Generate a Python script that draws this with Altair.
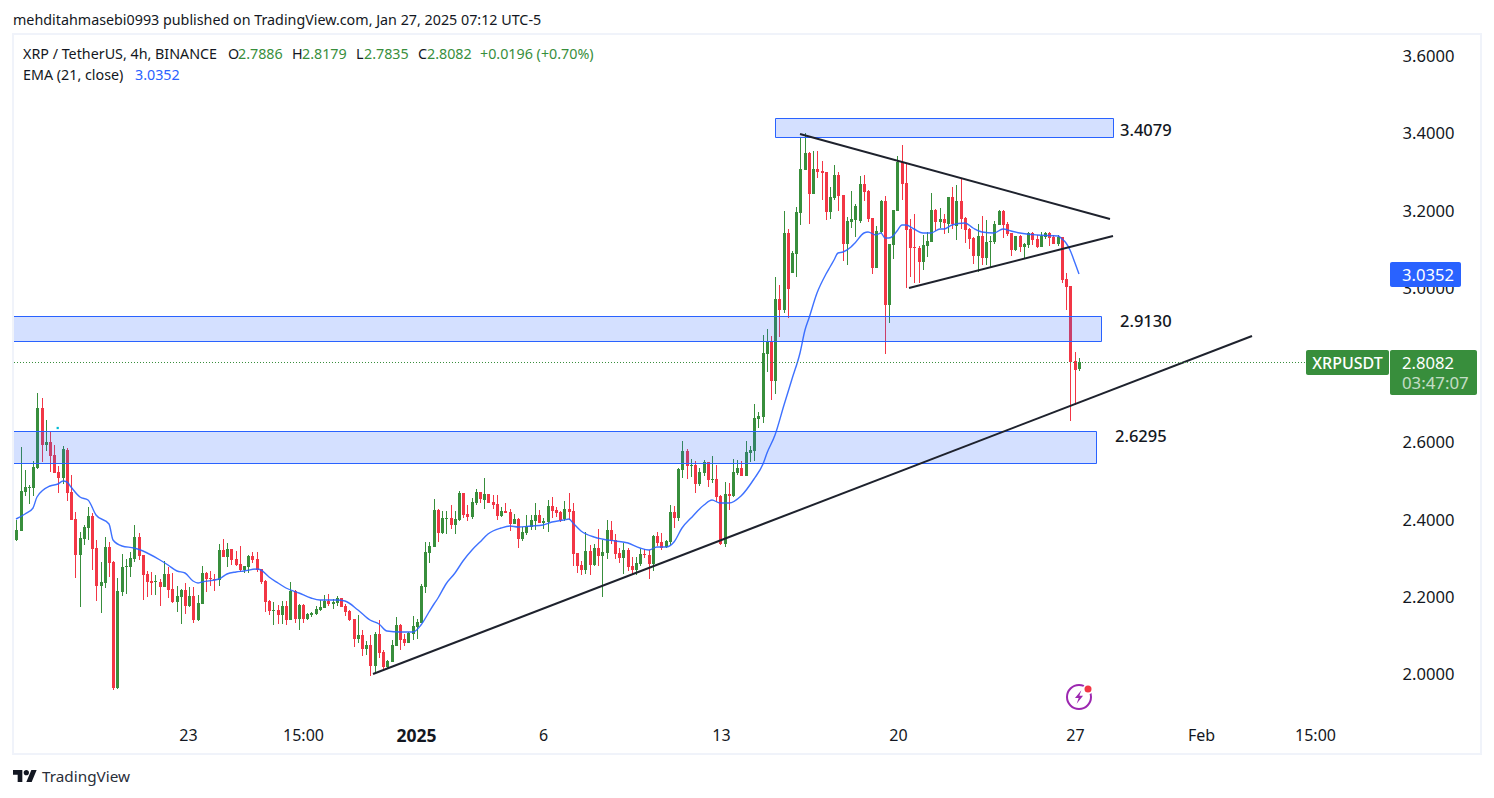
import altair as alt
import pandas as pd

FONT = "Noto Sans"
INK = "#131722"
GREEN = "#388e3c"
RED = "#f23645"
BLUE = "#2962ff"

# open, high, low, close
candles_a = [
(2.347,2.399,2.345,2.373),(2.371,2.587,2.371,2.474),(2.471,2.528,2.461,2.484),(2.482,2.489,2.440,2.484),
(2.482,2.551,2.461,2.535),(2.533,2.727,2.531,2.689),(2.689,2.714,2.549,2.593),(2.593,2.657,2.577,2.600),
(2.600,2.629,2.523,2.564),(2.567,2.593,2.520,2.520),(2.523,2.538,2.468,2.507),(2.507,2.590,2.493,2.582),
(2.580,2.585,2.448,2.468),(2.471,2.515,2.399,2.399),(2.401,2.419,2.248,2.308),(2.308,2.367,2.173,2.352),
(2.349,2.386,2.334,2.380),(2.378,2.432,2.347,2.409),(2.409,2.417,2.269,2.323),(2.326,2.347,2.189,2.228),
(2.228,2.290,2.158,2.238),(2.235,2.355,2.222,2.329),(2.329,2.342,2.251,2.287),(2.290,2.292,1.958,1.964),
(1.964,2.248,1.961,2.215),(2.212,2.311,2.202,2.277),(2.277,2.298,2.207,2.279),(2.277,2.316,2.251,2.300),
(2.298,2.386,2.290,2.355),(2.355,2.365,2.295,2.305),(2.308,2.308,2.191,2.256),(2.259,2.266,2.199,2.238),
(2.241,2.264,2.204,2.235),(2.238,2.256,2.204,2.241),(2.238,2.246,2.176,2.225),(2.225,2.292,2.225,2.259),
(2.259,2.277,2.197,2.217),(2.220,2.261,2.184,2.186),(2.186,2.228,2.160,2.202),(2.199,2.220,2.129,2.217),
(2.217,2.235,2.155,2.176),(2.176,2.225,2.173,2.202),(2.202,2.225,2.132,2.140),(2.140,2.204,2.137,2.184),
]
candles_b = [
(2.181,2.280,2.181,2.261),(2.261,2.264,2.212,2.246),(2.248,2.267,2.228,2.246),(2.246,2.259,2.215,2.243),
(2.243,2.337,2.228,2.321),(2.321,2.350,2.303,2.303),(2.303,2.339,2.277,2.324),(2.324,2.324,2.282,2.295),
(2.298,2.318,2.280,2.282),(2.285,2.331,2.264,2.269),(2.269,2.280,2.261,2.280),(2.277,2.308,2.261,2.305),
(2.305,2.316,2.287,2.295),(2.298,2.316,2.264,2.269),(2.272,2.272,2.233,2.238),(2.241,2.243,2.160,2.186),
(2.189,2.192,2.153,2.163),(2.163,2.186,2.127,2.166),(2.166,2.179,2.129,2.153),(2.153,2.189,2.129,2.176),
(2.176,2.189,2.127,2.140),(2.140,2.238,2.140,2.215),(2.215,2.217,2.132,2.142),(2.142,2.181,2.114,2.179),
(2.179,2.181,2.132,2.142),(2.142,2.158,2.140,2.155),(2.153,2.160,2.148,2.158),(2.155,2.176,2.153,2.168),
(2.166,2.192,2.163,2.173),(2.171,2.204,2.171,2.189),(2.189,2.207,2.176,2.181),(2.181,2.194,2.168,2.186),
(2.184,2.202,2.176,2.197),(2.197,2.197,2.173,2.173),(2.176,2.181,2.150,2.160),(2.163,2.166,2.137,2.140),
(2.142,2.142,2.070,2.091),(2.091,2.153,2.080,2.101),(2.101,2.114,2.047,2.065),(2.065,2.085,2.049,2.075),
(2.075,2.101,1.995,2.021),(2.021,2.109,2.000,2.104),(2.104,2.140,2.041,2.054),(2.057,2.062,2.013,2.018),
(2.018,2.036,2.013,2.034),(2.031,2.088,2.031,2.075),(2.073,2.148,2.073,2.127),(2.127,2.129,2.062,2.088),
(2.091,2.104,2.073,2.080),(2.080,2.109,2.080,2.106),(2.104,2.150,2.088,2.124),(2.122,2.142,2.091,2.135),
(2.132,2.233,2.132,2.228),(2.225,2.342,2.210,2.316),(2.313,2.342,2.287,2.331),
]
candles_c = [
(2.329,2.453,2.329,2.425),(2.425,2.427,2.342,2.365),(2.365,2.422,2.362,2.404),(2.401,2.422,2.362,2.404),
(2.404,2.437,2.375,2.386),(2.386,2.422,2.362,2.401),(2.399,2.474,2.396,2.469),(2.469,2.469,2.404,2.412),
(2.414,2.437,2.396,2.406),(2.406,2.456,2.401,2.445),(2.443,2.479,2.437,2.471),(2.471,2.471,2.443,2.453),
(2.450,2.507,2.427,2.466),(2.466,2.466,2.443,2.443),(2.445,2.463,2.427,2.437),(2.440,2.463,2.399,2.409),
(2.409,2.432,2.406,2.422),(2.422,2.443,2.417,2.417),(2.419,2.427,2.370,2.388),(2.388,2.414,2.388,2.401),
(2.401,2.404,2.326,2.349),(2.349,2.381,2.344,2.368),(2.365,2.412,2.360,2.383),(2.381,2.412,2.373,2.399),
(2.396,2.443,2.373,2.412),(2.412,2.425,2.391,2.391),(2.391,2.404,2.375,2.396),(2.393,2.450,2.368,2.435),
(2.435,2.458,2.404,2.422),(2.425,2.432,2.406,2.417),(2.419,2.422,2.393,2.399),(2.401,2.448,2.396,2.427),
(2.427,2.469,2.399,2.419),(2.422,2.443,2.280,2.311),(2.313,2.313,2.261,2.280),(2.282,2.293,2.256,2.269),
(2.269,2.368,2.259,2.318),(2.318,2.334,2.256,2.282),(2.282,2.337,2.280,2.326),(2.326,2.375,2.280,2.305),
(2.305,2.347,2.199,2.316),(2.313,2.399,2.298,2.373),(2.373,2.396,2.337,2.344),(2.347,2.362,2.298,2.311),
(2.313,2.326,2.287,2.300),(2.300,2.339,2.259,2.321),(2.321,2.326,2.267,2.277),(2.280,2.303,2.256,2.269),
(2.269,2.303,2.256,2.287),(2.285,2.324,2.280,2.311),(2.311,2.324,2.300,2.308),(2.308,2.321,2.246,2.285),
(2.285,2.360,2.267,2.357),(2.357,2.368,2.331,2.339),
]
candles_d = [
(2.341,2.365,2.321,2.326),(2.328,2.347,2.326,2.344),(2.341,2.437,2.334,2.419),(2.419,2.435,2.378,2.404),
(2.404,2.533,2.396,2.530),(2.528,2.603,2.507,2.577),(2.577,2.582,2.505,2.538),(2.538,2.556,2.510,2.541),
(2.541,2.551,2.468,2.492),(2.492,2.533,2.486,2.523),(2.520,2.554,2.512,2.549),(2.549,2.549,2.484,2.502),
(2.502,2.564,2.494,2.505),(2.505,2.541,2.445,2.458),(2.461,2.463,2.334,2.336),(2.336,2.497,2.328,2.466),
(2.466,2.494,2.424,2.461),(2.461,2.556,2.458,2.523),(2.520,2.554,2.515,2.533),(2.533,2.551,2.512,2.512),
(2.512,2.603,2.512,2.574),(2.572,2.590,2.549,2.580),(2.577,2.699,2.551,2.662),(2.660,2.678,2.637,2.668),
(2.665,2.877,2.650,2.831),(2.828,2.893,2.782,2.859),(2.859,2.875,2.709,2.758),(2.758,3.028,2.725,2.971),
]
candles_e = [
(2.971,3.007,2.872,2.942),(2.942,3.199,2.935,3.142),(3.142,3.152,2.922,2.997),(3.038,3.095,3.038,3.090),
(3.087,3.208,3.028,3.196),(3.194,3.388,3.162,3.307),(3.305,3.401,3.305,3.349),(3.349,3.351,3.165,3.243),
(3.243,3.354,3.243,3.307),(3.307,3.354,3.284,3.300),(3.302,3.328,3.227,3.297),(3.300,3.300,3.175,3.196),
(3.196,3.261,3.178,3.235),(3.232,3.318,3.227,3.292),(3.292,3.300,3.199,3.238),(3.240,3.240,3.069,3.113),
(3.113,3.183,3.059,3.173),(3.170,3.250,3.155,3.178),(3.175,3.217,3.131,3.212),(3.173,3.289,3.168,3.269),
(3.269,3.292,3.225,3.248),(3.250,3.253,3.170,3.178),(3.181,3.181,3.036,3.051),(3.051,3.160,3.051,3.147),
(3.144,3.227,3.142,3.225),(3.225,3.238,2.828,2.955),(2.955,3.113,2.909,3.113),(3.111,3.201,3.074,3.201),
(3.199,3.341,3.199,3.326),(3.326,3.370,3.227,3.269),(3.271,3.320,3.000,3.150),(3.152,3.178,3.028,3.103),
(3.105,3.191,3.012,3.103),(3.103,3.108,3.012,3.067),(3.067,3.137,3.046,3.111),(3.108,3.144,3.080,3.121),
(3.118,3.245,3.118,3.201),(3.201,3.204,3.147,3.170),
]
candles_f = [
(3.170,3.206,3.155,3.178),(3.178,3.191,3.139,3.168),(3.165,3.235,3.142,3.235),(3.235,3.261,3.152,3.165),
(3.160,3.266,3.124,3.225),(3.225,3.284,3.152,3.178),(3.181,3.183,3.116,3.150),(3.152,3.155,3.100,3.126),
(3.129,3.131,3.061,3.082),(3.082,3.165,3.041,3.134),(3.134,3.186,3.059,3.077),(3.077,3.175,3.059,3.118),
(3.118,3.134,3.051,3.121),(3.118,3.173,3.113,3.165),(3.162,3.201,3.162,3.199),(3.199,3.201,3.129,3.162),
(3.165,3.170,3.134,3.139),(3.142,3.142,3.082,3.098),(3.098,3.134,3.095,3.134),(3.134,3.137,3.093,3.105),
(3.105,3.116,3.077,3.113),(3.111,3.144,3.103,3.142),(3.142,3.144,3.111,3.124),(3.126,3.137,3.103,3.105),
(3.105,3.144,3.105,3.134),(3.131,3.144,3.126,3.142),(3.142,3.144,3.108,3.129),(3.131,3.137,3.113,3.113),
(3.113,3.137,3.108,3.131),(3.131,3.131,3.012,3.020),(3.023,3.038,2.942,3.002),(3.005,3.005,2.655,2.808),
(2.810,2.834,2.696,2.787),(2.7886,2.8179,2.7835,2.8082),
]

ema_index = [0,2,4,5,8,10,11,12,13,15,17,19,22,23,25,28,30,34,36,38,40,42,43,44,48,50,52,54,57,58,60,62,64,67,70,72,76,78,81,84,86,88,91,94,96,98,99,100,102,104,106,108,110,112,115,117,119,122,125,127,130,131,132,134,137,139,142,145,148,150,152,154,156,158,160,163,165,167,169,172,175,177,178,180,182,184,186,187,188,190,192,193,194,195,196,198,199,201,202,204,205,206,207,208,209,210,211,213,215,217,219,220,222,225,227,229,232,234,236,238,242,247,248,249,250,251,252]
ema_value = [2.402,2.414,2.430,2.457,2.488,2.492,2.500,2.497,2.483,2.459,2.450,2.411,2.388,2.347,2.332,2.325,2.319,2.295,2.282,2.267,2.262,2.241,2.236,2.239,2.246,2.259,2.265,2.267,2.273,2.269,2.250,2.235,2.223,2.211,2.196,2.192,2.192,2.188,2.166,2.141,2.129,2.111,2.108,2.108,2.127,2.160,2.181,2.196,2.233,2.261,2.293,2.321,2.343,2.362,2.377,2.383,2.381,2.383,2.386,2.394,2.400,2.401,2.392,2.371,2.354,2.349,2.344,2.338,2.325,2.321,2.328,2.328,2.341,2.379,2.405,2.437,2.450,2.442,2.443,2.461,2.506,2.545,2.571,2.618,2.696,2.765,2.830,2.891,2.921,2.987,3.036,3.055,3.072,3.091,3.092,3.106,3.117,3.141,3.145,3.137,3.141,3.128,3.128,3.134,3.147,3.162,3.163,3.153,3.141,3.143,3.151,3.151,3.162,3.167,3.154,3.145,3.143,3.151,3.148,3.142,3.136,3.134,3.126,3.115,3.098,3.063,3.0352]

zone_start = [179.96, -0.83, -0.83]
zone_end = [260.1, 257.3, 256.1]
zone_top = [3.4395, 2.9269, 2.6304]
zone_bottom = [3.3903, 2.8621, 2.5463]

zone_text = ["3.4079", "2.9130", "2.6295"]
zone_text_x = [261.8, 261.8, 260.6]
zone_text_y = [3.4085, 2.9139, 2.6162]

trend_name = ["rise", "rise", "fall", "fall", "floor", "floor"]
trend_x = [84.6, 293.1, 185.9, 259.4, 211.7, 260.1]
trend_y = [2.0000, 2.8751, 3.3980, 3.1780, 2.9994, 3.1340]

last_price = [2.8082]
last_start = [-0.66]
last_end = [305.9]

date_pos = [40.7, 68.1, 94.9, 124.9, 167.2, 209.1, 251.1, 281.1, 308.1]
date_text = ["23", "15:00", "2025", "6", "13", "20", "27", "Feb", "15:00"]
price_ticks = [2.0, 2.2, 2.4, 2.6, 3.0, 3.2, 3.4, 3.6]

rows = candles_a + candles_b + candles_c + candles_d + candles_e + candles_f
candles = pd.DataFrame(rows, columns=["o", "h", "l", "c"])
candles["i"] = range(len(candles))
candles["dir"] = ["up" if c >= o else "down" for o, c in zip(candles.o, candles.c)]
candles["top"] = candles[["o", "c"]].max(axis=1)

W, H = 1478, 780
xs = alt.Scale(domain=[-1.969, 348.6], nice=False, zero=False, round=True, padding=0)
ys = alt.Scale(domain=[1.7049, 3.7243], nice=False, zero=False, round=True, padding=0)
cs = alt.Scale(domain=["up", "down"], range=[GREEN, RED])

label_map = "{" + ",".join(f"'{p}':'{t}'" for p, t in zip(date_pos, date_text)) + "}"
x_axis = alt.Axis(values=date_pos, labelExpr=label_map + "[datum.value]", title=None, grid=False,
                  domain=False, ticks=False, labelPadding=0, offset=-61, labelFont=FONT,
                  labelFontSize=alt.expr("datum.value == 94.9 ? 17.5 : 16"),
                  labelColor=INK, labelFlush=False, labelOverlap=False,
                  labelFontWeight=alt.expr("datum.value == 94.9 ? 'bold' : 'normal'"))
y_axis = alt.Axis(values=price_ticks, format=".4f", title=None, grid=False, domain=False, ticks=False,
                  orient="right", offset=-84, labelPadding=0, labelFont=FONT, labelFontSize=16.6,
                  labelColor=INK, labelFlush=False, labelOverlap=False, labelBaseline="middle", labelOffset=0.4)

X = lambda f: alt.X(f, type="quantitative", scale=xs, title=None)
Y = lambda f: alt.Y(f, type="quantitative", scale=ys, title=None)

wicks = alt.Chart(candles).mark_rule(strokeWidth=1, xOffset=0.5).encode(
    x=alt.X("i:Q", scale=xs, axis=x_axis),
    y=alt.Y("l:Q", scale=ys, axis=y_axis),
    y2="h:Q",
    color=alt.Color("dir:N", scale=cs, legend=None),
)
bodies = alt.Chart(candles).mark_bar(size=3, orient="vertical", xOffset=0.5).encode(
    x=X("i"), y=Y("o"), y2="c:Q",
    color=alt.Color("dir:N", scale=cs, legend=None),
)
dojis = alt.Chart(candles).mark_tick(orient="horizontal", size=3, thickness=1, xOffset=0.5, yOffset=0.5, opacity=1).encode(
    x=X("i"), y=Y("top"),
    color=alt.Color("dir:N", scale=cs, legend=None),
)
ema = alt.Chart(pd.DataFrame({"i": ema_index, "v": ema_value})).mark_line(
    color=BLUE, strokeWidth=1.4, opacity=0.9, interpolate="monotone").encode(x=X("i"), y=Y("v"))
zones = alt.Chart(pd.DataFrame({"a": zone_start, "b": zone_end, "t": zone_top, "u": zone_bottom})).mark_rect(
    fill=BLUE, fillOpacity=0.2, stroke=BLUE, strokeWidth=1,
    xOffset=0.5, x2Offset=0.5, yOffset=0.5, y2Offset=0.5).encode(x=X("a"), x2="b:Q", y=Y("t"), y2="u:Q")
trends = alt.Chart(pd.DataFrame({"n": trend_name, "x": trend_x, "y": trend_y})).mark_line(
    color="#1e222d", strokeWidth=2).encode(x=X("x"), y=Y("y"), detail="n:N")
last_line = alt.Chart(pd.DataFrame({"a": last_start, "b": last_end, "y": last_price})).mark_rule(
    color=GREEN, strokeWidth=1, strokeDash=[1, 2], yOffset=0.5).encode(x=X("a"), x2="b:Q", y=Y("y"))
zone_labels = alt.Chart(pd.DataFrame({"t": zone_text, "x": zone_text_x, "y": zone_text_y})).mark_text(
    align="left", baseline="middle", font=FONT, fontSize=16.5, color=INK, fontWeight=500, dy=1).encode(
    x=X("x"), y=Y("y"), text="t:N")


def text(s, px, py, size=14.3, color=INK, align="left", weight="normal", opacity=1):
    return alt.Chart().mark_text(align=align, baseline="middle", font=FONT, fontSize=size, color=color,
                                 fontWeight=weight, opacity=opacity).encode(
        x=alt.value(px - 8), y=alt.value(py - 7), text=alt.value(s))


def box(x0, x1, y0, y1, fill=None, stroke=None, sw=0, radius=0):
    kw = {}
    if fill:
        kw["fill"] = fill
    else:
        kw["fillOpacity"] = 0
    if stroke:
        kw["stroke"] = stroke
    return alt.Chart().mark_rect(strokeWidth=sw, cornerRadius=radius, **kw).encode(
        x=alt.value(x0 - 8), x2=alt.value(x1 - 8), y=alt.value(y0 - 8), y2=alt.value(y1 - 8))


def glyph(shape, px, py, size, fill=None, stroke=None, sw=0):
    kw = {"filled": bool(fill)}
    if fill:
        kw["fill"] = fill
    if stroke:
        kw["stroke"] = stroke
    return alt.Chart().mark_point(shape=shape, size=size, strokeWidth=sw, opacity=1, **kw).encode(
        x=alt.value(px - 8), y=alt.value(py - 8))


LOGO = ("M-0.222 0.5H-0.611V-0.111H-1V-0.5H-0.222Z"
        "M0.556 0.5H0.111L0.528 -0.5H0.972Z"
        "M-0.111 -0.278A0.222 0.222 0 1 0 0.333 -0.278A0.222 0.222 0 1 0 -0.111 -0.278Z")
BOLT = "M0.35 -1L-0.6 0.15H-0.05L-0.35 1L0.6 -0.2H0.05Z"

chrome = [
    box(13, 1481, 34, 754, stroke="#f0f3fa", sw=2),
    text("mehditahmasebi0993 published on TradingView.com, Jan 27, 2025 07:12 UTC-5", 13, 20),
    text("XRP / TetherUS, 4h, BINANCE", 23, 54),
    text("O", 228, 54), text("2.7886", 238, 54, color=GREEN),
    text("H", 292, 54), text("2.8179", 302, 54, color=GREEN),
    text("L", 356, 54), text("2.7835", 364, 54, color=GREEN),
    text("C", 418, 54), text("2.8082", 427, 54, color=GREEN),
    text("+0.0196 (+0.70%)", 480, 54, color=GREEN),
    text("EMA (21, close)", 23, 75), text("3.0352", 135, 75, color=BLUE),
    box(1390, 1461, 262, 287, fill=BLUE, radius=2),
    text("3.0352", 1402, 274.5, size=16.6, color="#ffffff"),
    box(1306, 1389, 350, 375, fill=GREEN, radius=2),
    text("XRPUSDT", 1347.5, 362.5, size=16, color="#ffffff", align="center", weight=500),
    box(1390, 1477, 350, 395, fill=GREEN, radius=2),
    text("2.8082", 1402, 363, size=16.6, color="#ffffff"),
    text("03:47:07", 1402, 383, size=16.8, color="#ffffff", opacity=0.7),
    glyph("square", 57.7, 428, 5, fill="#00bcd4"),
    glyph("circle", 1079, 697, 576, stroke="#9c27b0", sw=2),
    glyph(BOLT, 1079, 697, 180, fill="#9c27b0"),
    glyph("circle", 1088, 689, 110, fill="#ffffff"),
    glyph("circle", 1088, 689, 49, fill=RED),
    glyph(LOGO, 25, 776, 576, fill=INK),
    text("TradingView", 42, 776, size=15.3, color="#2a2e39"),
]

chart = alt.layer(wicks, bodies, dojis, ema, zones, trends, last_line, zone_labels, *chrome).properties(
    width=W, height=H, padding=0, autosize="none", background="#ffffff"
).configure_view(stroke=None)

chart.save("out.html", embed_options={"renderer": "svg", "actions": False})
